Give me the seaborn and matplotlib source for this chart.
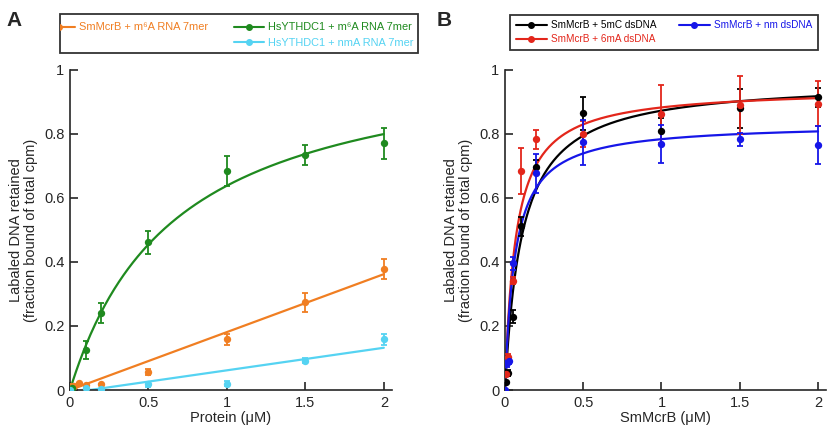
import numpy as np
import pandas as pd
import matplotlib.pyplot as plt
import seaborn as sns
from matplotlib.lines import Line2D
from matplotlib.patches import Rectangle
from matplotlib.transforms import Bbox, TransformedBbox

# ---- panel A data ----
a_x_orange = [0.006, 0.025, 0.055, 0.1, 0.2, 0.5, 1, 1.5, 2]
a_y_orange = [0.014, 0.014, 0.021, 0.017, 0.02, 0.057, 0.158, 0.274, 0.378]
a_e_orange = [0, 0, 0, 0, 0, 0.01, 0.018, 0.03, 0.03]

a_x_green = [0.01, 0.1, 0.2, 0.5, 1, 1.5, 2]
a_y_green = [0.005, 0.125, 0.24, 0.461, 0.684, 0.734, 0.771]
a_e_green = [0, 0.028, 0.031, 0.035, 0.047, 0.032, 0.048]

a_x_cyan = [0, 0.1, 0.2, 0.5, 1, 1.5, 2]
a_y_cyan = [0, 0.005, 0.003, 0.018, 0.02, 0.092, 0.158]
a_e_cyan = [0, 0, 0, 0.008, 0.008, 0.008, 0.017]

# fit parameters
green_fit = dict(bmax=1.07, kd=0.676)
orange_fit = dict(slope=0.181, icpt=0.0, x0=0.03)
cyan_fit = dict(slope=0.0705, icpt=-0.009, x0=0.12)

# ---- panel B data ----
b_x_black = [0.006, 0.02, 0.053, 0.1, 0.2, 0.5, 1, 1.5, 2]
b_y_black = [0.024, 0.054, 0.229, 0.512, 0.698, 0.865, 0.81, 0.88, 0.915]
b_e_black = [0, 0.01, 0.02, 0.03, 0.02, 0.052, 0.04, 0.06, 0.03]

b_x_red = [0.006, 0.02, 0.05, 0.1, 0.2, 0.5, 1, 1.5, 2]
b_y_red = [0.05, 0.104, 0.342, 0.685, 0.783, 0.80, 0.862, 0.89, 0.894]
b_e_red = [0, 0.01, 0.01, 0.072, 0.03, 0.04, 0.09, 0.09, 0.07]

b_x_blue = [0.0, 0.015, 0.025, 0.05, 0.2, 0.5, 1, 1.5, 2]
b_y_blue = [0.0, 0.083, 0.09, 0.396, 0.677, 0.774, 0.768, 0.783, 0.766]
b_e_blue = [0, 0.01, 0.01, 0.02, 0.06, 0.07, 0.06, 0.02, 0.06]

b_fits = {"black": (0.968, 0.109), "red": (0.943, 0.068), "blue": (0.834, 0.064)}

c_orange = "#F07E22"
c_green = "#1F8A1F"
c_cyan = "#55D3F2"
c_black = "#000000"
c_red = "#E3261B"
c_blue = "#1616E8"

sns.set_style("ticks")
plt.rcParams['font.family'] = ['Liberation Sans', 'DejaVu Sans']
plt.rcParams['xtick.direction'] = 'in'
plt.rcParams['ytick.direction'] = 'in'

W, H = 827, 429
fig = plt.figure(figsize=(W / 100, H / 100), dpi=100)
axA = fig.add_axes([0.0846, 0.0909, 0.389, 0.746])
axB = fig.add_axes([0.6106, 0.0909, 0.388, 0.746])


def hyper(x, bmax, kd):
    return bmax * x / (kd + x)


def draw_points(ax, xs, ys, es, color):
    df = pd.DataFrame({"x": xs, "y": ys})
    ax.errorbar(xs, ys, yerr=es, fmt='none', ecolor=color, elinewidth=1.3,
                capsize=2.5, capthick=1.3, zorder=3)
    sns.scatterplot(data=df, x="x", y="y", ax=ax, color=color, s=28,
                    edgecolor=color, linewidth=0, zorder=4, legend=False)


def draw_fit(ax, xs, ys, color):
    df = pd.DataFrame({"x": xs, "y": ys})
    sns.lineplot(data=df, x="x", y="y", ax=ax, color=color, linewidth=1.6,
                 zorder=2, legend=False)


# panel A
xs = np.linspace(0, 2, 200)
draw_fit(axA, xs, hyper(xs, **green_fit), c_green)
xo = np.linspace(orange_fit["x0"], 2, 50)
draw_fit(axA, xo, orange_fit["slope"] * xo + orange_fit["icpt"], c_orange)
xc = np.linspace(cyan_fit["x0"], 2, 50)
draw_fit(axA, xc, cyan_fit["slope"] * xc + cyan_fit["icpt"], c_cyan)
draw_points(axA, a_x_orange, a_y_orange, a_e_orange, c_orange)
draw_points(axA, a_x_green, a_y_green, a_e_green, c_green)
draw_points(axA, a_x_cyan, a_y_cyan, a_e_cyan, c_cyan)

# panel B
for col, c in [("black", c_black), ("red", c_red), ("blue", c_blue)]:
    bmax, kd = b_fits[col]
    draw_fit(axB, xs, hyper(xs, bmax, kd), c)
for xsb, ysb, esb, c in [(b_x_black, b_y_black, b_e_black, c_black),
                         (b_x_red, b_y_red, b_e_red, c_red),
                         (b_x_blue, b_y_blue, b_e_blue, c_blue)]:
    draw_points(axB, xsb, ysb, esb, c)

for ax, xl in [(axA, "Protein (\u03bcM)"), (axB, "SmMcrB (\u03bcM)")]:
    ax.set_xlim(0, 2.05)
    ax.set_ylim(0, 1)
    ax.set_xticks([0, 0.5, 1, 1.5, 2])
    ax.set_xticklabels(["0", "0.5", "1", "1.5", "2"])
    ax.set_yticks([0, 0.2, 0.4, 0.6, 0.8, 1])
    ax.set_yticklabels(["0", "0.2", "0.4", "0.6", "0.8", "1"])
    ax.tick_params(labelsize=10.5, length=6, width=1.2, pad=4)
    sns.despine(ax=ax)
    for s in ["left", "bottom"]:
        ax.spines[s].set_linewidth(1.2)
    ax.set_xlabel(xl, fontsize=10.5, labelpad=1)
    ax.set_ylabel("Labaled DNA retained\n(fraction bound of total cpm)",
                  fontsize=10.5, labelpad=4, linespacing=1.1)


def handle(c):
    return Line2D([0], [0], color=c, marker='o', markersize=4, linewidth=1.5)


# legend A: frame drawn by hand, the first handle is cut by the frame edge
blank = Line2D([0], [0], color='none')
legA = fig.legend([handle(c_orange), blank, handle(c_green), handle(c_cyan)],
                  ["SmMcrB + m\u2076A RNA 7mer", "",
                   "HsYTHDC1 + m\u2076A RNA 7mer", "HsYTHDC1 + nmA RNA 7mer"],
                  ncol=2, loc='upper left',
                  bbox_to_anchor=(44 / W, 1 - 22.5 / H),
                  bbox_transform=fig.transFigure, fontsize=7.9,
                  handlelength=2.8, handletextpad=0.37, labelspacing=0.5,
                  columnspacing=2.35, borderpad=0, borderaxespad=0,
                  frameon=False, labelcolor=[c_orange, 'none', c_green, c_cyan])
boxA = (60 / W, 1 - 53 / H, 358 / W, 39 / H)
fig.patches.append(Rectangle(boxA[:2], boxA[2], boxA[3], transform=fig.transFigure,
                             fill=False, edgecolor='#333333', linewidth=1.3))
clip = TransformedBbox(Bbox.from_bounds(*boxA), fig.transFigure)
for h in legA.legend_handles:
    h.set_clip_box(clip)
    h.set_clip_on(True)

legB = fig.legend([handle(c_black), handle(c_red), handle(c_blue)],
                  ["SmMcrB + 5mC dsDNA", "SmMcrB + 6mA dsDNA", "SmMcrB + nm dsDNA"],
                  ncol=2, loc='upper left',
                  bbox_to_anchor=(510 / W, 1 - 15 / H),
                  bbox_transform=fig.transFigure, fontsize=7.2,
                  handlelength=3.15, handletextpad=0.4, labelspacing=0.35,
                  columnspacing=2.2, borderpad=0.55, borderaxespad=0,
                  fancybox=False, framealpha=1, edgecolor='#333333',
                  labelcolor=[c_black, c_red, c_blue])
legB.get_frame().set_linewidth(1.3)

fig.text(0.008, 0.975, "A", fontsize=15, fontweight='bold', va='top', ha='left')
fig.text(0.528, 0.975, "B", fontsize=15, fontweight='bold', va='top', ha='left')

fig.savefig("out.png", dpi=100)
